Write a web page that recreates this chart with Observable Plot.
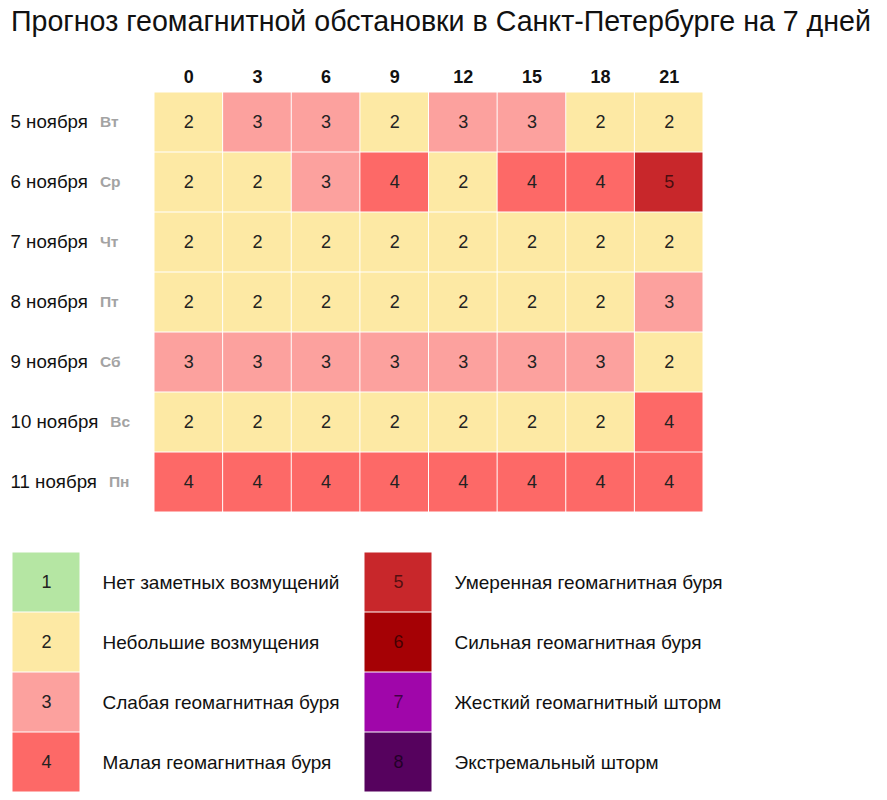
<!DOCTYPE html>
<html>
<head>
<meta charset="utf-8">
<script src="https://cdn.jsdelivr.net/npm/d3@7"></script>
<script src="https://cdn.jsdelivr.net/npm/@observablehq/plot@0.6"></script>
<style>
  body { margin: 0; background: #fff; font-family: "Liberation Sans", Arial, sans-serif; }
  #title { height: 50px; box-sizing: border-box; padding: 4px 0 0 11px; font-size: 28.6px; line-height: 34px; color: #111; white-space: nowrap; }
  svg { display: block; }
</style>
</head>
<body>
<div id="title">Прогноз геомагнитной обстановки в Санкт-Петербурге на 7 дней</div>
<div id="chart"></div>
<div id="legend"></div>
<script>
const hours = [0, 3, 6, 9, 12, 15, 18, 21];
const dates = ["5 ноября", "6 ноября", "7 ноября", "8 ноября", "9 ноября", "10 ноября", "11 ноября"];
const weekdays = ["Вт", "Ср", "Чт", "Пт", "Сб", "Вс", "Пн"];
const values = [
  [2, 3, 3, 2, 3, 3, 2, 2],
  [2, 2, 3, 4, 2, 4, 4, 5],
  [2, 2, 2, 2, 2, 2, 2, 2],
  [2, 2, 2, 2, 2, 2, 2, 3],
  [3, 3, 3, 3, 3, 3, 3, 2],
  [2, 2, 2, 2, 2, 2, 2, 4],
  [4, 4, 4, 4, 4, 4, 4, 4]
];
const levels = [1, 2, 3, 4, 5, 6, 7, 8];
const levelColors = ["#b5e6a3", "#fde9a4", "#fca19e", "#fd6967", "#c8272b", "#a50105", "#a006aa", "#56025e"];
const levelLabels = [
  "Нет заметных возмущений",
  "Небольшие возмущения",
  "Слабая геомагнитная буря",
  "Малая геомагнитная буря",
  "Умеренная геомагнитная буря",
  "Сильная геомагнитная буря",
  "Жесткий геомагнитный шторм",
  "Экстремальный шторм"
];

const FONT = "Liberation Sans, Arial, sans-serif";
const LABEL_SIZE = 18.7;
const cells = [];
dates.forEach((d, r) => hours.forEach((h, c) => cells.push({date: d, hour: h, v: values[r][c]})));

const color = {type: "ordinal", domain: levels, range: levelColors};

// measure date labels so the weekday follows it
const ctx = document.createElement("canvas").getContext("2d");
ctx.font = LABEL_SIZE + "px " + FONT;
const weekdayMarks = dates.map((d, i) =>
  Plot.text([weekdays[i]], {
    y: () => d, frameAnchor: "left", textAnchor: "start",
    dx: -144 + ctx.measureText(d).width + 12,
    fill: "#a3a3a3", fontWeight: "bold", fontSize: 15.5
  })
);

const chart = Plot.plot({
  width: 887,
  height: 480,
  marginTop: 42,
  marginBottom: 18,
  marginLeft: 154,
  marginRight: 184,
  style: {fontFamily: FONT, background: "white"},
  x: {type: "band", domain: hours, padding: 0, round: false, axis: null},
  y: {type: "band", domain: dates, padding: 0, round: false, axis: null},
  color,
  marks: [
    Plot.cell(cells, {x: "hour", y: "date", fill: "v", inset: 0.5}),
    Plot.text(cells.filter(d => d.v <= 4), {x: "hour", y: "date", text: "v", fill: "#222", fontSize: 18}),
    Plot.text(cells.filter(d => d.v > 4), {x: "hour", y: "date", text: "v", fill: "black", fillOpacity: 0.65, fontSize: 18}),
    Plot.text(hours, {x: d => d, frameAnchor: "top", lineAnchor: "middle", dy: -15, text: d => String(d), fontWeight: "bold", fontSize: 18, fill: "#111"}),
    Plot.text(dates, {y: d => d, frameAnchor: "left", textAnchor: "start", dx: -144, text: d => d, fontSize: LABEL_SIZE, fill: "#111"}),
    ...weekdayMarks
  ]
});
document.getElementById("chart").appendChild(chart);

const legendData = levels.map((v, i) => ({v, label: levelLabels[i], col: Math.floor(i / 4), row: i % 4}));
const legend = Plot.plot({
  width: 887,
  height: 270,
  style: {fontFamily: FONT, background: "white"},
  x: {type: "band", domain: [0, 1], range: [12, 432], paddingInner: 1 - 68 / 352, paddingOuter: 0, round: false, axis: null},
  y: {type: "band", domain: [0, 1, 2, 3], range: [22, 262], padding: 0, round: false, axis: null},
  color,
  marks: [
    Plot.cell(legendData, {x: "col", y: "row", fill: "v", inset: 0.5}),
    Plot.text(legendData.filter(d => d.v <= 4), {x: "col", y: "row", text: "v", fill: "#222", fontSize: 18}),
    Plot.text(legendData.filter(d => d.v > 4), {x: "col", y: "row", text: "v", fill: "black", fillOpacity: 0.6, fontSize: 18}),
    Plot.text(legendData, {x: "col", y: "row", text: "label", dx: 56, textAnchor: "start", fontSize: 19, fill: "#111"})
  ]
});
document.getElementById("legend").appendChild(legend);
</script>
</body>
</html>
